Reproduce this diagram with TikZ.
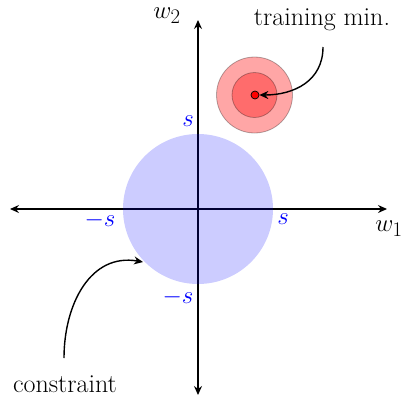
\documentclass[tikz,border=0pt]{standalone}
\usetikzlibrary{arrows.meta}
\begin{document}
\begin{tikzpicture}[x=1pt,y=-1pt,
  axis/.style={line width=1.4pt,{Stealth[length=9pt,width=8pt,inset=3pt]}-{Stealth[length=9pt,width=8pt,inset=3pt]}},
  callout/.style={line width=1.4pt,-{Stealth[length=9pt,width=8pt,inset=3pt]}},
  lbl/.style={font=\fontsize{26}{30}\selectfont},
  mlbl/.style={font=\fontsize{30}{34}\selectfont},
  slbl/.style={text=blue,font=\fontsize{28}{32}\selectfont},
  contour/.style={fill=red,fill opacity=0.35,draw=black,draw opacity=0.3,line width=0.8pt}]
\useasboundingbox (0,0) rectangle (402,397);
\coordinate (O) at (198,209);
\coordinate (L) at (10,209);
\coordinate (R) at (387,209);
\coordinate (T) at (198,20);
\coordinate (B) at (198,395);
\draw[axis] (L) -- (R);
\draw[axis] (B) -- (T);
\fill[blue,fill opacity=0.2] (O) circle[radius=75];
\node[contour,circle,minimum size=76pt,inner sep=0] (outer) at (254.5,95) {};
\node[contour,circle,minimum size=45pt,inner sep=0] (inner) at (254.5,95) {};
\node[circle,fill=red,draw=black,line width=0.7pt,minimum size=8pt,inner sep=0] (min) at (255,95) {};
\node[lbl] (tm) at (322,20) {training min.};
\node[lbl] (con) at (65,384) {constraint};
\coordinate (edge) at (143,262);
\draw[callout] (323,47) to[out=-90,in=0,looseness=1.1] (min.east);
\draw[callout] (64,358) to[out=90,in=170,looseness=1.1] (edge);
\node[mlbl] (w2) at (167,16) {$w_2$};
\node[mlbl] (w1) at (389,229) {$w_1$};
\node[slbl] (st) at (188,121) {$s$};
\node[slbl] (sr) at (283,219) {$s$};
\node[slbl] (sl) at (100,220) {$-s$};
\node[slbl] (sb) at (178,297) {$-s$};
\end{tikzpicture}
\end{document}
